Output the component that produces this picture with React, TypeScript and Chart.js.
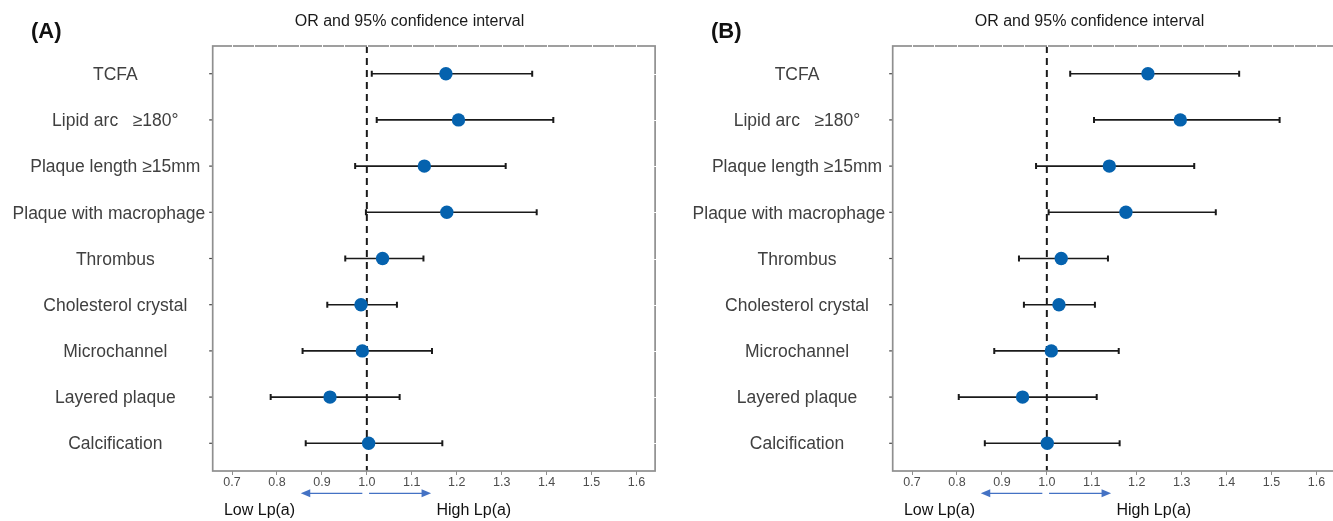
import { useEffect, useRef } from "react";
import { Chart, registerables } from "chart.js";

Chart.register(...registerables);

// ---------- data ----------
const categories = [
  "TCFA",
  "Lipid arc   ≥180°",
  "Plaque length ≥15mm",
  "Plaque with macrophage",
  "Thrombus",
  "Cholesterol crystal",
  "Microchannel",
  "Layered plaque",
  "Calcification",
];

const orA = [1.176, 1.204, 1.128, 1.178, 1.035, 0.987, 0.99, 0.918, 1.004];
const lowA = [1.011, 1.022, 0.974, 0.998, 0.952, 0.912, 0.857, 0.786, 0.864];
const highA = [1.368, 1.415, 1.309, 1.378, 1.126, 1.067, 1.145, 1.073, 1.168];

const orB = [1.225, 1.297, 1.139, 1.176, 1.032, 1.027, 1.01, 0.946, 1.001];
const lowB = [1.052, 1.105, 0.976, 1.004, 0.938, 0.949, 0.883, 0.804, 0.862];
const highB = [1.428, 1.518, 1.328, 1.376, 1.136, 1.107, 1.16, 1.111, 1.162];

const xTicks = [0.7, 0.8, 0.9, 1.0, 1.1, 1.2, 1.3, 1.4, 1.5, 1.6];
const minorTicks = [
  0.7, 0.75, 0.8, 0.85, 0.9, 0.95, 1.0, 1.05, 1.1, 1.15, 1.2, 1.25, 1.3, 1.35,
  1.4, 1.45, 1.5, 1.55, 1.6,
];
const xMin = 0.657;
const xMax = 1.6415;
const refValue = 1;

const titleText = "OR and 95% confidence interval";
const lowLabel = "Low Lp(a)";
const highLabel = "High Lp(a)";
// arrow extents in OR units
const lowArrow = [0.99, 0.853];
const highArrow = [1.005, 1.143];
const lowTextAt = 0.682;
const highTextAt = 1.155;

const FONT = "'Liberation Sans', Arial, Helvetica, sans-serif";

type PanelProps = {
  letter: string;
  or: number[];
  low: number[];
  high: number[];
  labelCenter: number;
  left: number;
};

function ForestPanel(props: PanelProps) {
  const ref = useRef<HTMLCanvasElement>(null);

  useEffect(() => {
    const canvas = ref.current!;
    const { or, low, high, letter, labelCenter } = props;

    const drawArrow = (ctx: CanvasRenderingContext2D, x1: number, x2: number, y: number) => {
      const dir = x2 > x1 ? 1 : -1;
      ctx.beginPath();
      ctx.moveTo(x1, y);
      ctx.lineTo(x2 - dir * 8, y);
      ctx.stroke();
      ctx.beginPath();
      ctx.moveTo(x2, y);
      ctx.lineTo(x2 - dir * 9.5, y - 4);
      ctx.lineTo(x2 - dir * 9.5, y + 4);
      ctx.closePath();
      ctx.fill();
    };

    const decor = {
      id: "decor",
      beforeDatasetsDraw(chart: any) {
        const { ctx } = chart;
        const xs = chart.scales.x;
        const ys = chart.scales.y;
        ctx.save();
        ctx.strokeStyle = "#1a1a1a";
        ctx.lineWidth = 1.6;
        low.forEach((lo, i) => {
          const py = ys.getPixelForValue(i + 1);
          const x1 = xs.getPixelForValue(lo);
          const x2 = xs.getPixelForValue(high[i]);
          ctx.beginPath();
          ctx.moveTo(x1, py);
          ctx.lineTo(x2, py);
          ctx.stroke();
          ctx.lineWidth = 2;
          ctx.beginPath();
          ctx.moveTo(x1, py - 3);
          ctx.lineTo(x1, py + 3);
          ctx.moveTo(x2, py - 3);
          ctx.lineTo(x2, py + 3);
          ctx.stroke();
          ctx.lineWidth = 1.6;
        });
        ctx.restore();
      },
      afterDraw(chart: any) {
        const { ctx, chartArea } = chart;
        const { left, right, top, bottom } = chartArea;
        const xs = chart.scales.x;
        const ys = chart.scales.y;
        ctx.save();

        // panel border
        ctx.strokeStyle = "#8f8f8f";
        ctx.lineWidth = 1.7;
        ctx.strokeRect(left, top, right - left, bottom - top);

        // white notches on the top border
        ctx.strokeStyle = "#ffffff";
        ctx.lineWidth = 1;
        minorTicks.forEach((v) => {
          const px = Math.round(xs.getPixelForValue(v)) + 0.5;
          ctx.beginPath();
          ctx.moveTo(px, top - 1);
          ctx.lineTo(px, top + 1);
          ctx.stroke();
        });
        // white notches on right border at rows
        categories.forEach((_, i) => {
          const py = Math.round(ys.getPixelForValue(i + 1)) + 0.5;
          ctx.beginPath();
          ctx.moveTo(right - 1, py);
          ctx.lineTo(right + 1, py);
          ctx.stroke();
        });

        // y tick marks
        ctx.strokeStyle = "#444444";
        ctx.lineWidth = 1.2;
        categories.forEach((_, i) => {
          const py = ys.getPixelForValue(i + 1);
          ctx.beginPath();
          ctx.moveTo(left - 3.5, py);
          ctx.lineTo(left - 0.8, py);
          ctx.stroke();
        });

        // category labels
        ctx.font = `17.5px ${FONT}`;
        ctx.fillStyle = "#404040";
        ctx.textAlign = "center";
        ctx.textBaseline = "alphabetic";
        categories.forEach((lab, i) => {
          const py = ys.getPixelForValue(i + 1);
          const w = ctx.measureText(lab).width;
          const cx = Math.min(labelCenter, left - 7.5 - w / 2);
          ctx.fillText(lab, cx, py + 6.2);
        });

        // title
        ctx.font = `16px ${FONT}`;
        ctx.fillStyle = "#1a1a1a";
        ctx.textAlign = "center";
        ctx.fillText(titleText, 409.5, 26.2);

        // panel letter
        ctx.font = `bold 22px ${FONT}`;
        ctx.fillStyle = "#111111";
        ctx.textAlign = "left";
        ctx.fillText(letter, 31, 37.5);

        // arrows
        const ay = bottom + 22.3;
        ctx.strokeStyle = "#4472c4";
        ctx.fillStyle = "#4472c4";
        ctx.lineWidth = 1.2;
        drawArrow(ctx, xs.getPixelForValue(lowArrow[0]), xs.getPixelForValue(lowArrow[1]), ay);
        drawArrow(ctx, xs.getPixelForValue(highArrow[0]), xs.getPixelForValue(highArrow[1]), ay);

        // low / high labels
        ctx.font = `16px ${FONT}`;
        ctx.fillStyle = "#111111";
        ctx.textAlign = "left";
        ctx.fillText(lowLabel, xs.getPixelForValue(lowTextAt), bottom + 44);
        ctx.fillText(highLabel, xs.getPixelForValue(highTextAt), bottom + 44);

        ctx.restore();
      },
    };

    const chart = new Chart(canvas, {
      type: "scatter",
      data: {
        datasets: [
          {
            label: "OR",
            data: or.map((v, i) => ({ x: v, y: i + 1 })),
            pointRadius: 6.7,
            pointHoverRadius: 6.7,
            backgroundColor: "#0562ae",
            borderWidth: 0,
            order: 0,
          },
          {
            label: "ref",
            data: [
              { x: refValue, y: 0.4 },
              { x: refValue, y: 9.6 },
            ],
            showLine: true,
            pointRadius: 0,
            borderColor: "#1a1a1a",
            borderWidth: 2,
            borderDash: [7, 5],
            order: 1,
          } as any,
        ],
      },
      options: {
        animation: false,
        responsive: false,
        events: [],
        layout: { padding: { left: 212.7, right: 24.9, top: 46, bottom: 0 } },
        plugins: { legend: { display: false }, tooltip: { enabled: false }, title: { display: false } },
        scales: {
          x: {
            type: "linear",
            min: xMin,
            max: xMax,
            afterBuildTicks: (s: any) => {
              s.ticks = xTicks.map((v) => ({ value: v }));
            },
            afterFit: (s: any) => {
              s.height = 50;
            },
            ticks: {
              callback: (v: any) => Number(v).toFixed(1),
              font: { size: 12.5, family: FONT },
              color: "#4d4d4d",
              padding: 0,
              autoSkip: false,
              maxRotation: 0,
            },
            grid: {
              drawOnChartArea: false,
              tickLength: 4,
              color: "#8f8f8f",
              tickColor: "#8f8f8f",
            },
            border: { display: false },
          },
          y: {
            type: "linear",
            reverse: true,
            min: 0.4,
            max: 9.6,
            display: false,
          },
        },
      } as any,
      plugins: [decor],
    });
    return () => chart.destroy();
  }, []);

  return (
    <div style={{ position: "absolute", left: props.left, top: 0, width: 680, height: 521 }}>
      <canvas ref={ref} width={680} height={521} style={{ display: "block" }} />
    </div>
  );
}

export default function App() {
  return (
    <div
      style={{
        position: "absolute",
        left: 0,
        top: 0,
        width: 1333,
        height: 521,
        overflow: "hidden",
        background: "#ffffff",
      }}
    >
      <ForestPanel letter="(A)" or={orA} low={lowA} high={highA} labelCenter={115.3} left={0} />
      <ForestPanel letter="(B)" or={orB} low={lowB} high={highB} labelCenter={117} left={680} />
    </div>
  );
}
